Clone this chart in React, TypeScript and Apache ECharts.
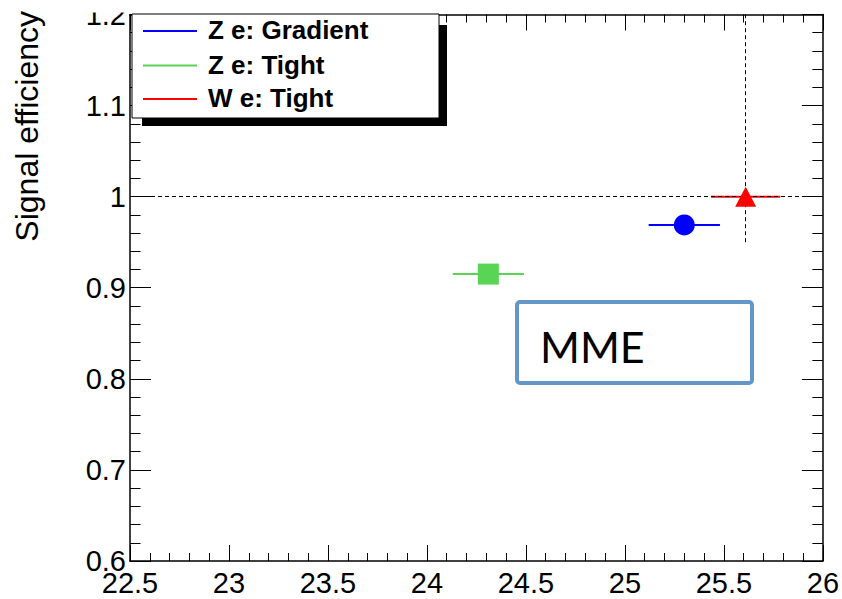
import React, { useEffect, useRef } from "react";
import * as echarts from "echarts";

// ---- Data ----
const seriesNames = ["Z e: Gradient", "Z e: Tight", "W e: Tight"];
const xValues = [25.3, 24.31, 25.61];
const yValues = [0.969, 0.915, 1.0];
const xErrors = [0.18, 0.18, 0.175];
const xRange = [22.5, 26];
const yRange = [0.6, 1.2];
const referenceEfficiency = 1.0;
const referenceX = 25.61;
const referenceXLineFrom = 0.95;
const yAxisTitle = "Signal efficiency";
const boxLabel = "MME";

// ---- Styles ----
const colors = ["#0000ff", "#59d454", "#ff0000"];
const symbols = ["circle", "rect", "triangle"];
const FONT = '"Liberation Sans", Arial, Helvetica, sans-serif';

export default function App() {
  const ref = useRef<HTMLDivElement>(null);

  useEffect(() => {
    if (!ref.current) return;
    const chart = echarts.init(ref.current, null, { renderer: "svg" });

    const axisCommon = {
      type: "value" as const,
      axisLine: { show: true, onZero: false, lineStyle: { color: "#000", width: 1.5 } },
      splitLine: { show: false },
      minorSplitLine: { show: false },
    };

    const xAxisBase = {
      ...axisCommon,
      min: xRange[0],
      max: xRange[1],
      interval: 0.5,
      axisTick: { show: true, inside: true, length: 16, lineStyle: { color: "#000", width: 1 } },
      minorTick: { show: true, splitNumber: 5, length: 8, lineStyle: { color: "#000", width: 1 } },
    };
    const yAxisBase = {
      ...axisCommon,
      min: yRange[0],
      max: yRange[1],
      interval: 0.1,
      axisTick: { show: true, inside: true, length: 21, lineStyle: { color: "#000", width: 1 } },
      minorTick: { show: true, splitNumber: 5, length: 10.5, lineStyle: { color: "#000", width: 1 } },
    };

    const series: any[] = [];
    seriesNames.forEach((name, i) => {
      series.push({
        type: "custom",
        name,
        silent: true,
        z: 2,
        data: [[xValues[i], yValues[i], xErrors[i]]],
        encode: { x: 0, y: 1 },
        renderItem: (params: any, api: any) => {
          const x = api.value(0);
          const y = api.value(1);
          const e = api.value(2);
          const p1 = api.coord([x - e, y]);
          const p2 = api.coord([x + e, y]);
          return {
            type: "line",
            shape: { x1: p1[0], y1: p1[1], x2: p2[0], y2: p2[1] },
            style: { stroke: colors[i], lineWidth: 2 },
          };
        },
      });
    });

    series.push({
      type: "line",
      name: "reference",
      data: [],
      z: 4,
      silent: true,
      markLine: {
        silent: true,
        symbol: ["none", "none"],
        label: { show: false },
        lineStyle: { color: "#000", type: [4, 3], width: 1 },
        data: [
          [{ coord: [xRange[0], referenceEfficiency] }, { coord: [xRange[1], referenceEfficiency] }],
          [{ coord: [referenceX, referenceXLineFrom] }, { coord: [referenceX, yRange[1]] }],
        ],
      },
    });

    seriesNames.forEach((name, i) => {
      series.push({
        type: "scatter",
        name,
        z: 6,
        symbol: symbols[i],
        symbolSize: symbols[i] === "triangle" ? [21, 20] : 21,
        itemStyle: { color: colors[i], opacity: 1 },
        data: [[xValues[i], yValues[i]]],
      });
    });

    const legendRows = [30, 64.5, 98];
    const graphic: any[] = [
      {
        type: "rect",
        z: 90,
        shape: { x: 0, y: 0, width: 842, height: 12.5 },
        style: { fill: "#fff" },
      },
      {
        type: "text",
        z: 95,
        x: 43,
        y: 11,
        rotation: Math.PI / 2,
        style: {
          text: yAxisTitle,
          fontSize: 32,
          fontFamily: FONT,
          fill: "#000",
          textAlign: "right",
          textVerticalAlign: "bottom",
        },
      },
      {
        type: "rect",
        z: 100,
        shape: { x: 142, y: 25, width: 305, height: 101 },
        style: { fill: "#000" },
      },
      {
        type: "rect",
        z: 101,
        shape: { x: 132, y: 14, width: 307, height: 104 },
        style: { fill: "#fff", stroke: "#000", lineWidth: 1 },
      },
      ...seriesNames.flatMap((name, i) => [
        {
          type: "line",
          z: 102,
          shape: { x1: 143, y1: legendRows[i] + 1, x2: 197, y2: legendRows[i] + 1 },
          style: { stroke: colors[i], lineWidth: 2 },
        },
        {
          type: "text",
          z: 102,
          x: 208,
          y: legendRows[i],
          style: {
            text: name,
            fontSize: 26,
            fontWeight: "bold",
            fontFamily: FONT,
            fill: "#000",
            textVerticalAlign: "middle",
          },
        },
      ]),
      {
        type: "rect",
        z: 100,
        shape: { x: 517, y: 302, width: 235, height: 81, r: 3 },
        style: { fill: "#fff", stroke: "#6596c8", lineWidth: 4 },
      },
      {
        type: "text",
        z: 101,
        x: 540,
        y: 346,
        style: {
          text: boxLabel,
          fontSize: 43,
          fontFamily: 'Lato, "Open Sans", sans-serif',
          fill: "#000",
          textVerticalAlign: "middle",
        },
      },
    ];

    chart.setOption({
      animation: false,
      backgroundColor: "#fff",
      grid: { left: 130, right: 18, top: 11, bottom: 38, containLabel: false },
      xAxis: [
        {
          ...xAxisBase,
          position: "bottom",
          axisLabel: { show: true, fontSize: 29, color: "#000", fontFamily: FONT, margin: 7 },
        },
        {
          ...xAxisBase,
          position: "top",
          axisLabel: { show: false },
        },
      ],
      yAxis: [
        {
          ...yAxisBase,
          position: "left",
          axisLabel: { show: true, fontSize: 29, color: "#000", fontFamily: FONT, margin: 4 },
        },
        {
          ...yAxisBase,
          position: "right",
          axisLabel: { show: false },
        },
      ],
      series,
      graphic,
    });

    return () => chart.dispose();
  }, []);

  return (
    <div
      ref={ref}
      style={{ position: "absolute", left: 0, top: 0, width: 842, height: 599 }}
    />
  );
}
